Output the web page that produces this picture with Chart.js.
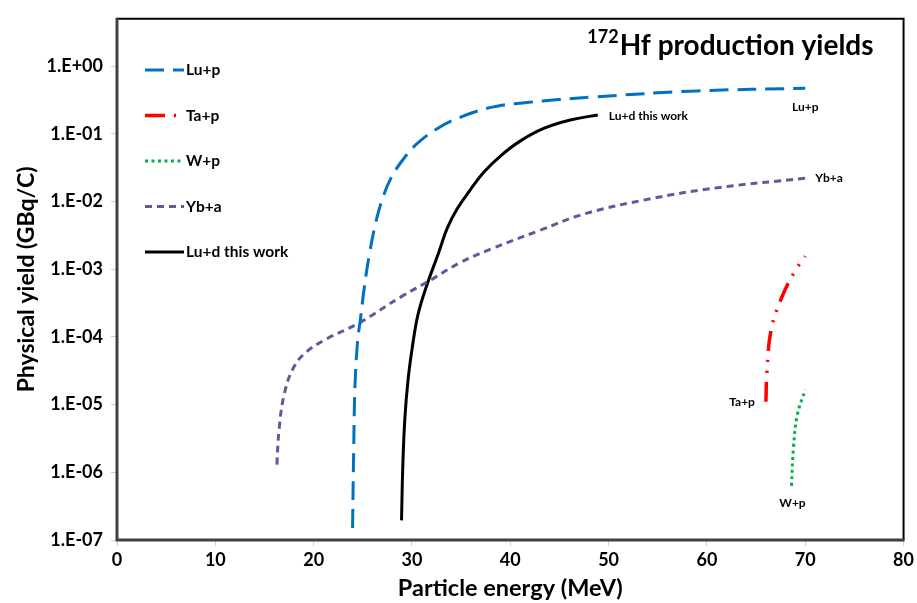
<!DOCTYPE html>
<html>
<head>
<meta charset="utf-8">
<title>172Hf production yields</title>
<script src="https://cdn.jsdelivr.net/npm/chart.js@4.4.1/dist/chart.umd.min.js"></script>
<style>
    html, body { margin: 0; padding: 0; background: #fff; }
    #wrap { width: 917px; height: 603px; }
</style>
</head>
<body>
<div id="wrap"><canvas id="yieldChart" width="917" height="603"></canvas></div>
<script>
// Veriler
const luPEnergy = [23.96, 24.07, 24.2, 24.47, 24.74, 25.14, 25.65, 26.33, 27.0, 27.85, 29.0, 30.4, 32.6, 35.1, 38.3, 41.7, 44.9, 48.4, 59.0, 70.0];
const luPYield  = [1.5e-7, 1.95e-6, 1.8e-5, 8.7e-5, 1.74e-4, 5.2e-4, 1.6e-3, 5.0e-3, 1.1e-2, 2.2e-2, 4.0e-2, 6.9e-2, 0.12, 0.18, 0.25, 0.29, 0.32, 0.35, 0.43, 0.47];

const taPEnergy = [66.0, 66.1, 66.5, 67.5, 68.9, 70.0];
const taPYield  = [1.1e-5, 3.0e-5, 1.2e-4, 3.5e-4, 9.1e-4, 1.55e-3];

const wPEnergy = [68.6, 68.8, 69.2, 70.0];
const wPYield  = [6.3e-7, 2.3e-6, 7.1e-6, 1.66e-5];

const ybAEnergy = [16.26, 16.5, 17.0, 17.9, 19.2, 21.3, 24.6, 29.0, 31.9, 34.8, 38.1, 42.9, 47.6, 54.3, 61.1, 70.0];
const ybAYield  = [1.3e-6, 4.5e-6, 1.4e-5, 3.4e-5, 5.9e-5, 9.3e-5, 1.6e-4, 4.0e-4, 6.9e-4, 1.23e-3, 2.0e-3, 3.7e-3, 6.6e-3, 1.1e-2, 1.6e-2, 2.2e-2];

const luDEnergy = [28.94, 29.06, 29.27, 29.6, 30.04, 30.6, 31.4, 32.74, 33.58, 34.6, 35.95, 37.3, 38.99, 41.0, 43.4, 46.1, 48.9];
const luDYield  = [1.95e-7, 1.12e-6, 6.0e-6, 2.3e-5, 7.1e-5, 2.1e-4, 5.2e-4, 1.8e-3, 4.0e-3, 7.8e-3, 1.5e-2, 2.7e-2, 4.7e-2, 7.8e-2, 0.12, 0.16, 0.19];

const seriesLabels = ['Lu+p', 'Ta+p', 'W+p', 'Yb+a', 'Lu+d this work'];
const yTickValues = [1e-7, 1e-6, 1e-5, 1e-4, 1e-3, 1e-2, 1e-1, 1];
const xTickStep = 10;
const xRange = [0, 80];
const yRange = [1e-7, 5];

const FONT = 'Lato, "Open Sans", sans-serif';

// enerji + verim dizilerinden nokta listesi
function toPoints(xs, ys) {
    return xs.map((x, i) => ({ x: x, y: ys[i] }));
}

// 1.E-03 biçimi
function sciLabel(v) {
    const e = Math.round(Math.log10(v));
    const s = e < 0 ? '-' : '+';
    return '1.E' + s + String(Math.abs(e)).padStart(2, '0');
}

// çerçeve, başlık, lejant ve etiketler
const decorPlugin = {
    id: 'decor',
    afterDatasetsDraw(chart) {
        const ctx = chart.ctx;
        const a = chart.chartArea;
        ctx.save();

        // çerçeve
        ctx.setLineDash([]);
        ctx.strokeStyle = '#000';
        ctx.lineWidth = 2;
        ctx.beginPath();
        ctx.moveTo(a.left, a.top);
        ctx.lineTo(a.right, a.top);
        ctx.lineTo(a.right, a.bottom);
        ctx.stroke();
        ctx.strokeStyle = '#404040';
        ctx.lineWidth = 3;
        ctx.beginPath();
        ctx.moveTo(a.left, a.top - 1);
        ctx.lineTo(a.left, a.bottom);
        ctx.lineTo(a.right + 1, a.bottom);
        ctx.stroke();

        // başlık
        ctx.fillStyle = '#000';
        ctx.textBaseline = 'alphabetic';
        ctx.textAlign = 'right';
        ctx.font = 'bold 28px ' + FONT;
        const main = 'Hf production yields';
        const mainRight = a.right - 30;
        ctx.fillText(main, mainRight, 55);
        const w = ctx.measureText(main).width;
        ctx.font = 'bold 18px ' + FONT;
        ctx.fillText('172', mainRight - w - 1, 43);

        // y ekseni başlığı
        ctx.save();
        ctx.translate(27, (a.top + a.bottom) / 2);
        ctx.rotate(-Math.PI / 2);
        ctx.textAlign = 'center';
        ctx.textBaseline = 'middle';
        ctx.font = 'bold 23px ' + FONT;
        ctx.fillText('Physical yield (GBq/C)', 0, 0);
        ctx.restore();

        // lejant
        ctx.font = 'bold 15.5px ' + FONT;
        ctx.textAlign = 'left';
        ctx.textBaseline = 'middle';
        chart.data.datasets.forEach((ds, i) => {
            const y = 70 + i * 45.5;
            ctx.strokeStyle = ds.borderColor;
            ctx.lineWidth = ds.borderWidth;
            ctx.setLineDash(ds.borderDash || []);
            ctx.beginPath();
            ctx.moveTo(145, y);
            ctx.lineTo(184, y);
            ctx.stroke();
            ctx.setLineDash([]);
            ctx.fillStyle = '#000';
            ctx.fillText(ds.label, 186, y);
        });

        // eğri etiketleri
        const tags = [
            { end: 'last', dx: 0, dy: 19, align: 'center' },
            { end: 'first', dx: -11, dy: 0, align: 'right' },
            { end: 'first', dx: 1, dy: 17, align: 'center' },
            { end: 'last', dx: 10, dy: 0, align: 'left' },
            { end: 'last', dx: 11, dy: 1, align: 'left' }
        ];
        ctx.font = 'bold 12px ' + FONT;
        ctx.fillStyle = '#000';
        tags.forEach((t, i) => {
            const pts = chart.getDatasetMeta(i).data;
            const p = t.end === 'last' ? pts[pts.length - 1] : pts[0];
            ctx.textAlign = t.align;
            ctx.fillText(chart.data.datasets[i].label, p.x + t.dx, p.y + t.dy);
        });

        ctx.restore();
    }
};

const tickFont = { family: FONT, size: 18, weight: 'bold' };

new Chart(document.getElementById('yieldChart'), {
    type: 'line',
    data: {
        datasets: [
            {
                label: seriesLabels[0],
                data: toPoints(luPEnergy, luPYield),
                borderColor: '#0070C0',
                borderWidth: 3,
                borderDash: [19, 9]
            },
            {
                label: seriesLabels[1],
                data: toPoints(taPEnergy, taPYield),
                borderColor: '#FF0000',
                borderWidth: 3.5,
                borderDash: [20, 9, 2, 9, 2, 9]
            },
            {
                label: seriesLabels[2],
                data: toPoints(wPEnergy, wPYield),
                borderColor: '#00B050',
                borderWidth: 3,
                borderDash: [3, 3.5]
            },
            {
                label: seriesLabels[3],
                data: toPoints(ybAEnergy, ybAYield),
                borderColor: '#5F5B9B',
                borderWidth: 3,
                borderDash: [7, 5]
            },
            {
                label: seriesLabels[4],
                data: toPoints(luDEnergy, luDYield),
                borderColor: '#000000',
                borderWidth: 3,
                borderDash: []
            }
        ]
    },
    options: {
        responsive: false,
        animation: false,
        devicePixelRatio: 1,
        layout: { padding: { top: 12, right: 10, left: 0, bottom: 0 } },
        elements: {
            point: { radius: 0 },
            line: { tension: 0.4, fill: false, borderCapStyle: 'butt' }
        },
        plugins: {
            legend: { display: false },
            tooltip: { enabled: false }
        },
        scales: {
            x: {
                type: 'linear',
                min: xRange[0],
                max: xRange[1],
                ticks: { stepSize: xTickStep, color: '#000', font: tickFont, padding: 3 },
                grid: { drawOnChartArea: false, tickLength: 6, color: '#d0d0d0' },
                border: { display: false },
                title: {
                    display: true,
                    text: 'Particle energy (MeV)',
                    color: '#000',
                    font: { family: FONT, size: 23.5, weight: 'bold' },
                    padding: { top: 0, bottom: 0 }
                },
                afterFit(scale) { scale.height = 63; }
            },
            y: {
                type: 'logarithmic',
                min: yRange[0],
                max: yRange[1],
                afterBuildTicks(scale) {
                    scale.ticks = yTickValues.map(v => ({ value: v }));
                },
                ticks: {
                    color: '#000',
                    font: tickFont,
                    padding: 8,
                    callback: v => sciLabel(v)
                },
                grid: { drawOnChartArea: false, tickLength: 6, color: '#d0d0d0' },
                border: { display: false },
                afterFit(scale) { scale.width = 117; }
            }
        }
    },
    plugins: [decorPlugin]
});
</script>
</body>
</html>
